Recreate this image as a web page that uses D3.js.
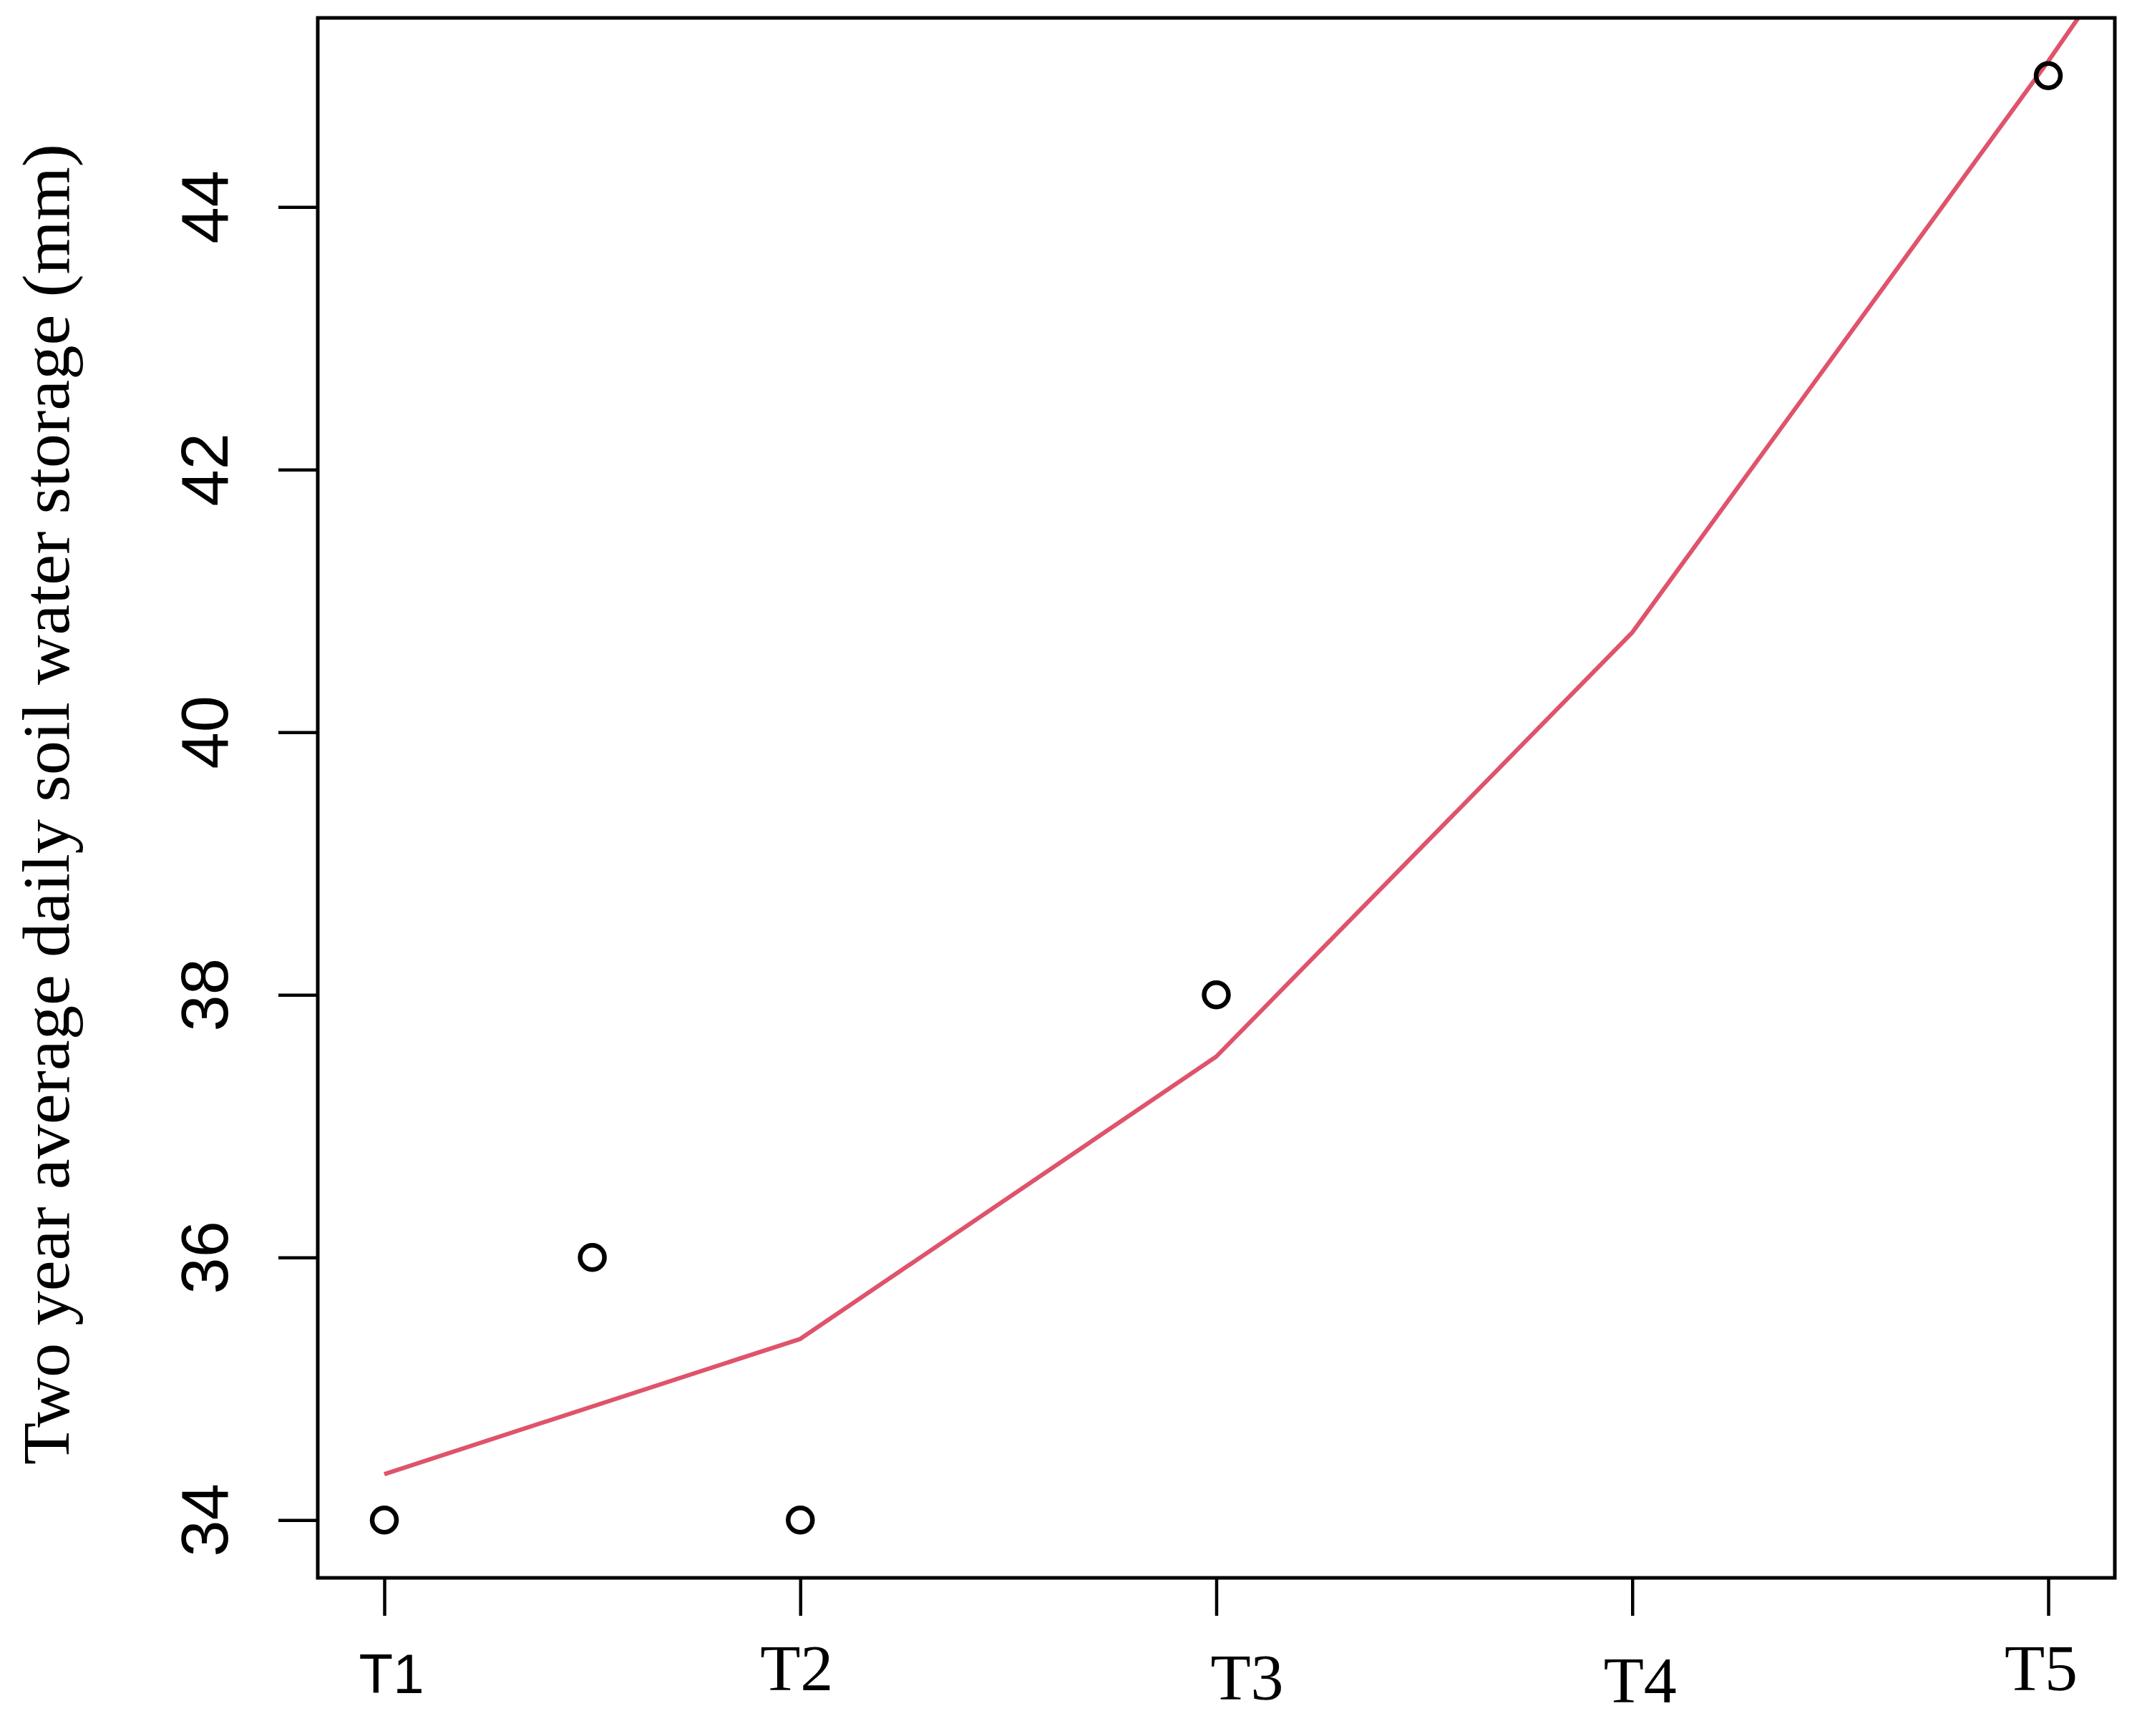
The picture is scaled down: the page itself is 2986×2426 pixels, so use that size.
<!DOCTYPE html>
<html>
<head>
<meta charset="utf-8">
<script src="https://cdn.jsdelivr.net/npm/d3@7"></script>
<style>
  html, body { margin: 0; padding: 0; background: #fff; }
  svg { display: block; }
</style>
</head>
<body>
<script>
// ---- data ----
const categories = ["T1", "T2", "T3", "T4", "T5"];
const categoryX = [1, 2, 3, 4, 5];
const pointX = [1, 1.5, 2, 3, 5];
const pointY = [34, 36, 34, 38, 45];
const fitX = [1, 2, 3, 4, 5, 6];
const fitY = [34.35, 35.38, 37.53, 40.76, 45.11, 49.68];
const yTicks = [34, 36, 38, 40, 42, 44];
const yTitle = "Two year average daily soil water storage (mm)";

// ---- layout / style ----
const W = 2986, H = 2426;
const plot = { left: 444, right: 2955, top: 25, bottom: 2205 };
// per-label nudges of the category labels (as in the original picture)
const labelNudge = [
  { dx: 10, y: 2366, font: "'Liberation Sans', Arial, sans-serif", size: 78 },
  { dx: -5, y: 2362, font: "'Liberation Serif', 'Times New Roman', serif", size: 92 },
  { dx: 43, y: 2375, font: "'Liberation Serif', 'Times New Roman', serif", size: 92 },
  { dx: 11, y: 2379, font: "'Liberation Serif', 'Times New Roman', serif", size: 92 },
  { dx: -10, y: 2362, font: "'Liberation Serif', 'Times New Roman', serif", size: 92 }
];
const red = "#DF536B";

const svg = d3.select("body").append("svg")
  .attr("width", W).attr("height", H)
  .attr("viewBox", `0 0 ${W} ${H}`);

// R-style 4% range extension
function extend(ext) { const d = (ext[1] - ext[0]) * 0.04; return [ext[0] - d, ext[1] + d]; }
const x = d3.scaleLinear().domain(extend(d3.extent(pointX))).range([plot.left, plot.right]);
const y = d3.scaleLinear().domain(extend(d3.extent(pointY))).range([plot.bottom, plot.top]);

svg.append("defs").append("clipPath").attr("id", "clip")
  .append("rect")
  .attr("x", plot.left).attr("y", plot.top)
  .attr("width", plot.right - plot.left).attr("height", plot.bottom - plot.top);

// fitted line
const line = d3.line().x((d, i) => x(fitX[i])).y(d => y(d));
svg.append("path")
  .datum(fitY)
  .attr("clip-path", "url(#clip)")
  .attr("d", line)
  .attr("fill", "none")
  .attr("stroke", red)
  .attr("stroke-width", 6)
  .attr("stroke-linejoin", "round");

// points
svg.append("g").selectAll("circle")
  .data(pointY)
  .join("circle")
  .attr("cx", (d, i) => x(pointX[i]))
  .attr("cy", d => y(d))
  .attr("r", 17)
  .attr("fill", "none")
  .attr("stroke", "#000")
  .attr("stroke-width", 6.5);

// y axis ticks
const yAxis = d3.axisLeft(y).tickValues(yTicks).tickSize(55).tickFormat("");
const gy = svg.append("g").attr("transform", `translate(${plot.left},0)`).call(yAxis);
gy.select(".domain").remove();
gy.selectAll(".tick line").attr("stroke", "#000").attr("stroke-width", 4.5);

// y tick labels (rotated)
svg.append("g").selectAll("text")
  .data(yTicks)
  .join("text")
  .attr("transform", d => `translate(318,${y(d)}) rotate(-90)`)
  .attr("text-anchor", "middle")
  .attr("font-family", "'Liberation Sans', Arial, Helvetica, sans-serif")
  .attr("font-size", 92)
  .attr("fill", "#000")
  .text(d => d);

// x axis ticks
const xAxis = d3.axisBottom(x).tickValues(categoryX).tickSize(53).tickFormat("");
const gx = svg.append("g").attr("transform", `translate(0,${plot.bottom})`).call(xAxis);
gx.select(".domain").remove();
gx.selectAll(".tick line").attr("stroke", "#000").attr("stroke-width", 4.5);

// x category labels
svg.append("g").selectAll("text")
  .data(categories)
  .join("text")
  .attr("x", (d, i) => x(categoryX[i]) + labelNudge[i].dx)
  .attr("y", (d, i) => labelNudge[i].y)
  .attr("text-anchor", "middle")
  .attr("font-family", (d, i) => labelNudge[i].font)
  .attr("font-size", (d, i) => labelNudge[i].size)
  .attr("fill", "#000")
  .text(d => d);

// box
svg.append("rect")
  .attr("x", plot.left).attr("y", plot.top)
  .attr("width", plot.right - plot.left).attr("height", plot.bottom - plot.top)
  .attr("fill", "none")
  .attr("stroke", "#000")
  .attr("stroke-width", 5);

// y title
svg.append("text")
  .attr("transform", `translate(96,1124) rotate(-90)`)
  .attr("text-anchor", "middle")
  .attr("font-family", "'Liberation Serif', 'Times New Roman', serif")
  .attr("font-size", 94)
  .attr("textLength", 1846)
  .attr("lengthAdjust", "spacingAndGlyphs")
  .attr("fill", "#000")
  .text(yTitle);
</script>
</body>
</html>
